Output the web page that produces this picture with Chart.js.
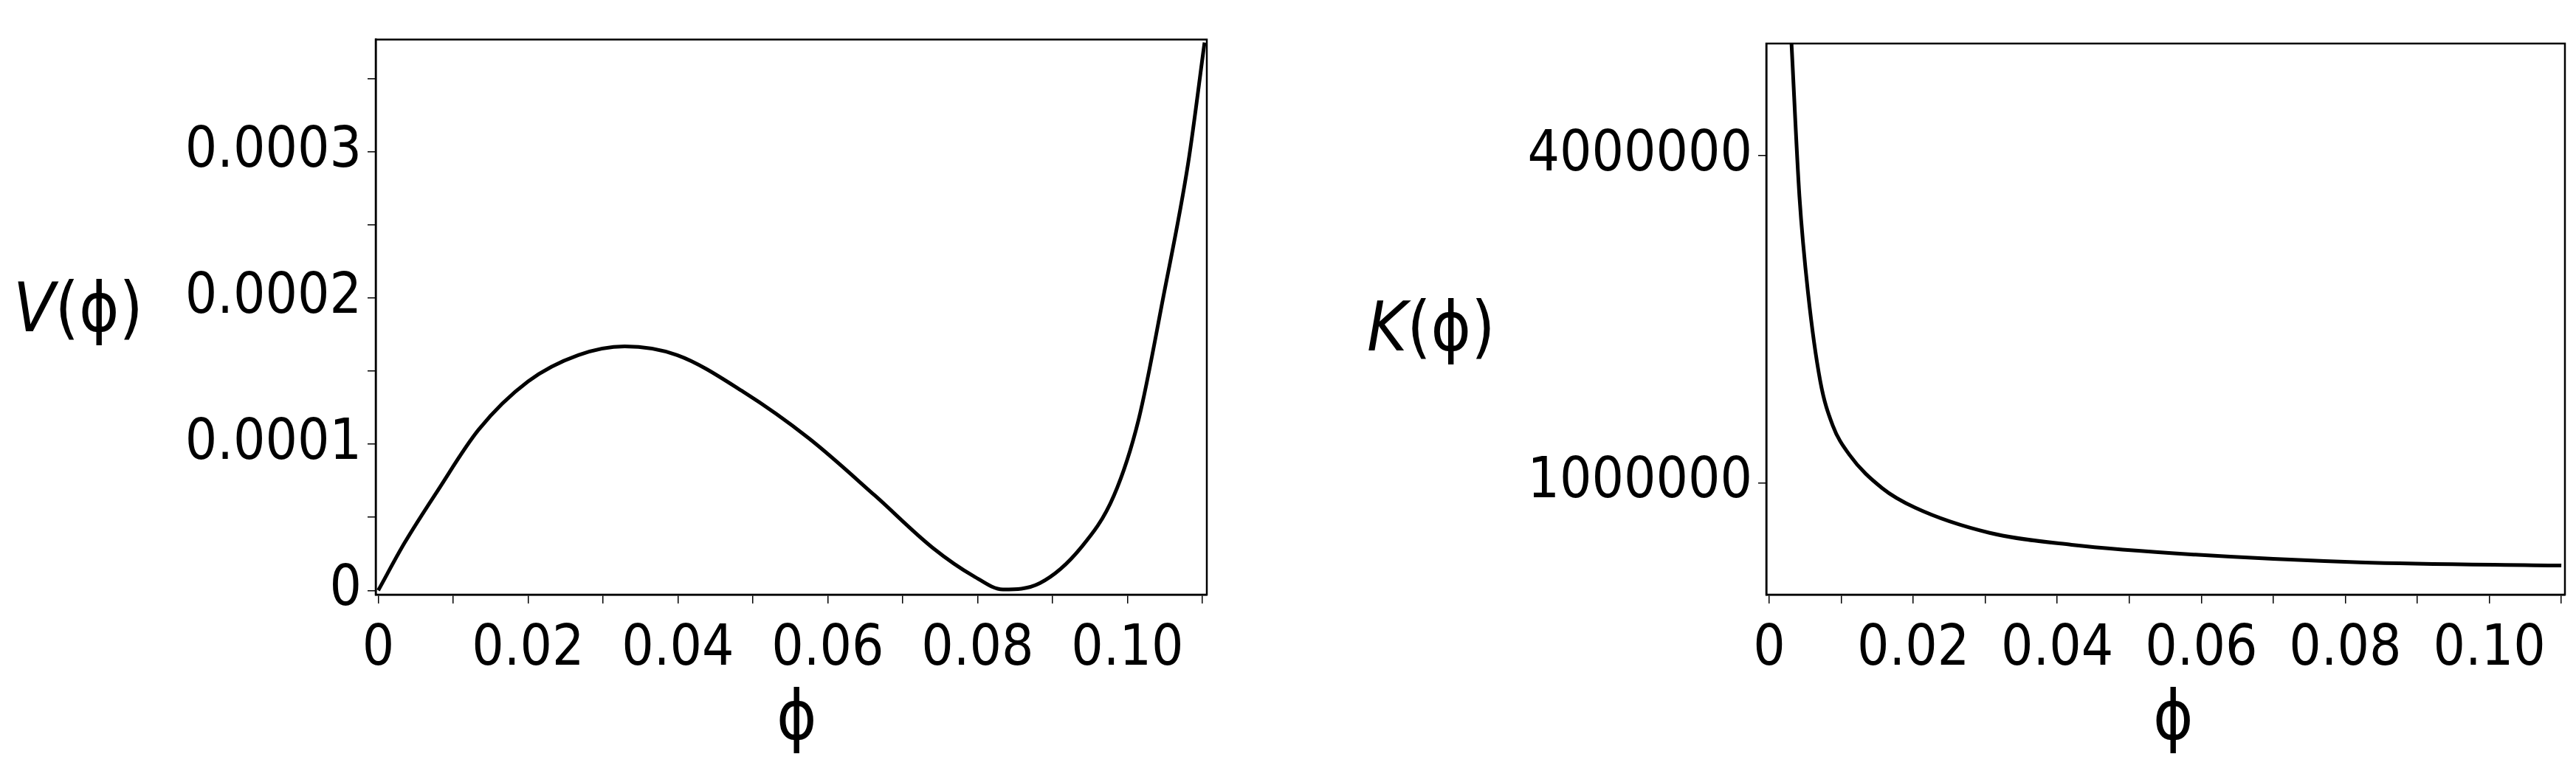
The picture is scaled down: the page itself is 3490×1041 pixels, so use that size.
<!DOCTYPE html>
<html><head><meta charset="utf-8">
<script src="https://cdn.jsdelivr.net/npm/chart.js@4"></script>
<style>
body{margin:0;background:#fff;width:3490px;height:1041px;position:relative;overflow:hidden;font-family:"DejaVu Sans Condensed","DejaVu Sans";}
canvas{position:absolute;top:0}
.t{position:absolute;font-size:92px;color:#000;white-space:nowrap;line-height:1}
</style></head><body>
<canvas id="c1" style="left:0;width:1660px;height:1041px" width="1660" height="1041"></canvas>
<canvas id="c2" style="left:1745px;width:1745px;height:1041px" width="1745" height="1041"></canvas>
<div class="t" style="left:18px;top:372px"><i>V</i>(ϕ)</div>
<div class="t" style="left:1052px;top:925px">ϕ</div>
<div class="t" style="left:1852px;top:398px"><i>K</i>(ϕ)</div>
<div class="t" style="left:2917px;top:925px">ϕ</div>
<script>
const vPhi=[0,0.0035,0.0079,0.0134,0.0200,0.0267,0.0329,0.0399,0.0487,0.0575,0.0663,0.0740,0.0795,0.0834,0.0883,0.0938,0.0982,0.1015,0.1048,0.1081,0.1103];
const vVal=[0,0.0000324,0.000068,0.000110,0.000143,0.000161,0.000167,0.000161,0.000136,0.000104,0.0000649,0.0000292,0.0000097,0.0000006,0.0000049,0.0000292,0.0000649,0.000117,0.000201,0.000292,0.000375];
const kPhi=[0.0031,0.0042,0.0054,0.0071,0.0088,0.0111,0.0157,0.0203,0.0306,0.042,0.0592,0.082,0.110];
const kVal=[5030000,3630000,2740000,1930000,1530000,1260000,950000,770000,540000,430000,340000,270000,240000];
const xTickLabels=["0","0.02","0.04","0.06","0.08","0.10"];
const vTickLabels=["0","0.0001","0.0002","0.0003"];
const kTickVals=[1000000,4000000];
const kTickLabels=["1000000","4000000"];

const F={family:'"DejaVu Sans Condensed","DejaVu Sans"',size:76};
const box={id:'box',afterDraw(c){const a=c.chartArea,x=c.ctx;x.save();x.strokeStyle='#000';x.lineWidth=2.5;x.strokeRect(a.left,a.top,a.right-a.left,a.bottom-a.top);x.restore();}};
function pts(xs,ys){return xs.map((v,i)=>({x:v,y:ys[i]}));}
function xScale(min,max){return {type:'linear',min,max,
  afterBuildTicks(s){const t=[];for(let i=0;i<=11;i++)t.push({value:i*0.01});s.ticks=t;},
  ticks:{font:F,color:'#000',padding:18,maxRotation:0,autoSkip:false,
    callback(v){const i=Math.round(v*100);return i%2===0?xTickLabels[i/2]:'';}},
  grid:{drawOnChartArea:false,tickLength:12,color:'#000',lineWidth:1.5},border:{color:'#000',width:2.5},
  afterFit(s){s.height=235;}};}
function mk(id,data,xs,ys,pad){
  return new Chart(document.getElementById(id),{type:'scatter',
    data:{datasets:[{data,showLine:true,borderColor:'#000',borderWidth:5,pointRadius:0,cubicInterpolationMode:'monotone',fill:false}]},
    options:{responsive:false,animation:false,layout:{padding:pad},
      plugins:{legend:{display:false},tooltip:{enabled:false}},
      scales:{x:xs,y:ys}},plugins:[box]});
}
mk('c1',pts(vPhi,vVal),xScale(-0.00034,0.1106),
 {type:'linear',min:-0.0000029,max:0.000377,
  afterBuildTicks(s){const t=[];for(let i=0;i<=7;i++)t.push({value:i*0.00005});s.ticks=t;},
  ticks:{font:F,color:'#000',padding:8,autoSkip:false,
    callback(v){const i=Math.round(v/0.00005);return i%2===0?vTickLabels[i/2]:'';}},
  grid:{drawOnChartArea:false,tickLength:11,color:'#000',lineWidth:1.5},border:{color:'#000',width:2.5},
  afterFit(s){s.width=509;}},
 {top:25,right:25,left:0,bottom:0});
mk('c2',pts(kPhi,kVal),xScale(-0.0004,0.1105),
 {type:'linear',min:-27000,max:5030000,
  afterBuildTicks(s){s.ticks=kTickVals.map(v=>({value:v}));},
  ticks:{font:F,color:'#000',padding:8,autoSkip:false,
    callback(v){const i=kTickVals.indexOf(v);return i>=0?kTickLabels[i]:'';}},
  grid:{drawOnChartArea:false,tickLength:11,color:'#000',lineWidth:1.5},border:{color:'#000',width:2.5},
  afterFit(s){s.width=648;}},
 {top:59,right:15,left:0,bottom:0});
</script></body></html>
